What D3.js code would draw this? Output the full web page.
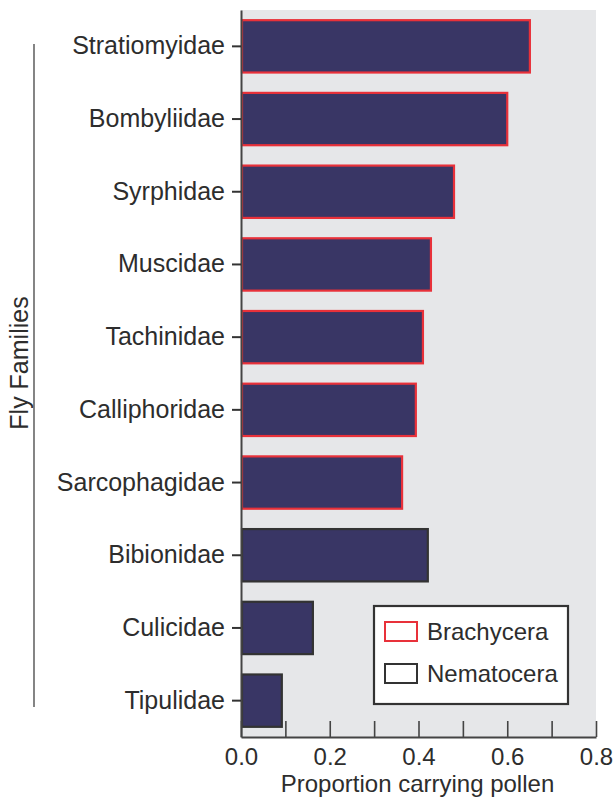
<!DOCTYPE html>
<html>
<head>
<meta charset="utf-8">
<script src="https://cdn.jsdelivr.net/npm/d3@7"></script>
<style>
  body { margin: 0; background: #fff; }
  svg text { font-family: "Liberation Sans", Arial, sans-serif; fill: #2d2d2d; }
</style>
</head>
<body>
<div id="chart"></div>
<script>
var families = ["Stratiomyidae", "Bombyliidae", "Syrphidae", "Muscidae", "Tachinidae",
                "Calliphoridae", "Sarcophagidae", "Bibionidae", "Culicidae", "Tipulidae"];
var proportions = [0.651, 0.600, 0.480, 0.428, 0.410, 0.394, 0.363, 0.421, 0.162, 0.092];
var suborder = ["Brachycera", "Brachycera", "Brachycera", "Brachycera", "Brachycera",
                "Brachycera", "Brachycera", "Nematocera", "Nematocera", "Nematocera"];
var groups = ["Brachycera", "Nematocera"];
var xTicks = [0, 0.1, 0.2, 0.3, 0.4, 0.5, 0.6, 0.7, 0.8];

var width = 614, height = 798,
    margin = {top: 10, right: 18, bottom: 61, left: 241};

var strokeColor = d3.scaleOrdinal().domain(groups).range(["#e8313a", "#333333"]);

var svg = d3.select("#chart").append("svg")
    .attr("width", width)
    .attr("height", height);

var g = svg.append("g").attr("transform", "translate(" + margin.left + "," + margin.top + ")");

var w = width - margin.left - margin.right,
    h = height - margin.top - margin.bottom;

var x = d3.scaleLinear().domain([0, 0.8]).range([0, w]);
var y = d3.scaleBand().domain(families).range([0, h]).paddingInner(0.28).paddingOuter(0.14);

g.append("rect")
    .attr("width", w).attr("height", h)
    .style("fill", "#e6e7e9");

// bars
g.selectAll(".bar")
    .data(families)
    .enter().append("rect")
    .attr("class", "bar")
    .attr("x", x(0) + 1)
    .attr("y", function(d) { return y(d); })
    .attr("width", function(d, i) { return x(proportions[i]) - x(0) - 1; })
    .attr("height", y.bandwidth())
    .style("fill", "#393665")
    .style("stroke", function(d, i) { return strokeColor(suborder[i]); })
    .style("stroke-width", 2.2);

// x axis, ticks pointing inward
var xAxis = g.append("g")
    .attr("transform", "translate(0," + h + ")")
    .call(d3.axisBottom(x).tickValues(xTicks).tickSizeInner(-16).tickSizeOuter(0)
        .tickFormat(function(d) { return (Math.round(d * 10) % 2 === 0) ? d3.format(".1f")(d) : ""; }));
xAxis.select(".domain").style("stroke", "#444").style("stroke-width", 2);
xAxis.selectAll(".tick line").style("stroke", "#444").style("stroke-width", 1.6);
xAxis.selectAll(".tick text")
    .attr("y", 11).attr("dy", "0.71em")
    .style("font-size", "24px");

// y axis
var yAxis = g.append("g")
    .call(d3.axisLeft(y).tickSize(9).tickSizeOuter(0).tickPadding(7));
yAxis.select(".domain").style("stroke", "#444").style("stroke-width", 2);
yAxis.selectAll(".tick line").style("stroke", "#333").style("stroke-width", 2);
yAxis.selectAll(".tick text").style("font-size", "25px");

svg.append("text")
    .attr("x", margin.left + w / 2 - 1)
    .attr("y", 792)
    .attr("text-anchor", "middle")
    .style("font-size", "24px")
    .text("Proportion carrying pollen");

// y title and bracket line
svg.append("line")
    .attr("x1", 34).attr("x2", 34)
    .attr("y1", 44).attr("y2", 707)
    .style("stroke", "#666").style("stroke-width", 1.6);

svg.append("text")
    .attr("transform", "translate(28,363) rotate(-90)")
    .attr("text-anchor", "middle")
    .style("font-size", "25px")
    .text("Fly Families");

// legend
var legend = svg.append("g").attr("transform", "translate(374,606)");
legend.append("rect")
    .attr("width", 194).attr("height", 98)
    .style("fill", "#fff").style("stroke", "#333").style("stroke-width", 2.2);

var item = legend.selectAll(".item")
    .data(groups)
    .enter().append("g")
    .attr("class", "item")
    .attr("transform", function(d, i) { return "translate(11," + (16 + i * 42) + ")"; });

item.append("rect")
    .attr("width", 32).attr("height", 19)
    .style("fill", "#fff")
    .style("stroke", function(d) { return strokeColor(d); })
    .style("stroke-width", 2);

item.append("text")
    .attr("x", 42).attr("y", 10)
    .attr("dy", ".35em")
    .style("font-size", "24px")
    .text(function(d) { return d; });
</script>
</body>
</html>
